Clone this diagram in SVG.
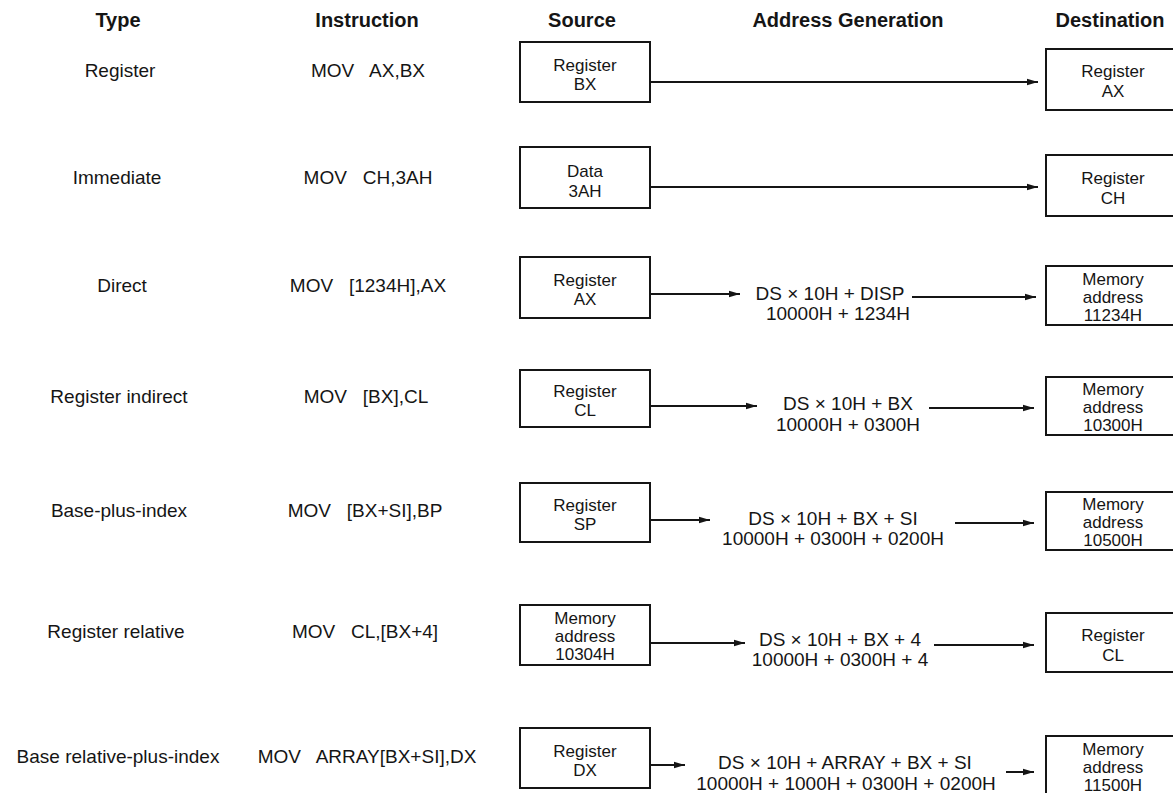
<svg xmlns="http://www.w3.org/2000/svg" width="1173" height="793" viewBox="0 0 1173 793">
<style>
text{font-family:"Liberation Sans",Arial,Helvetica,sans-serif;fill:#151515}
.h{font-size:20px;font-weight:bold;text-anchor:middle}
.t{font-size:19px;text-anchor:middle}
.i{font-size:19px;text-anchor:middle;white-space:pre}
.b{font-size:17px;text-anchor:middle}
.a{font-size:19px;text-anchor:middle}
rect{fill:#fff;stroke:#151515;stroke-width:2}
.c line{stroke:#151515;stroke-width:2}
</style>
<defs>
<marker id="ah" markerUnits="userSpaceOnUse" markerWidth="12" markerHeight="8" refX="11" refY="4" orient="auto">
<path d="M0,0.8 L11,4 L0,7.2 z" fill="#151515"/>
</marker>
</defs>
<rect x="0" y="0" width="1173" height="793" style="stroke:none;fill:#fff"/>
<g id="headers">
<text class="h" x="118" y="27">Type</text>
<text class="h" x="367" y="27">Instruction</text>
<text class="h" x="582" y="27">Source</text>
<text class="h" x="848" y="27">Address Generation</text>
<text class="h" x="1110" y="27">Destination</text>
</g>
<g id="types">
<text class="t" x="120" y="77">Register</text>
<text class="t" x="117" y="184">Immediate</text>
<text class="t" x="122" y="292">Direct</text>
<text class="t" x="119" y="403">Register indirect</text>
<text class="t" x="119" y="517">Base-plus-index</text>
<text class="t" x="116" y="638">Register relative</text>
<text class="t" x="118" y="763">Base relative-plus-index</text>
</g>
<g id="instructions">
<text class="i" x="368" y="77">MOV   AX,BX</text>
<text class="i" x="368" y="184">MOV   CH,3AH</text>
<text class="i" x="368" y="292">MOV   [1234H],AX</text>
<text class="i" x="366" y="403">MOV   [BX],CL</text>
<text class="i" x="365" y="517">MOV   [BX+SI],BP</text>
<text class="i" x="365" y="638">MOV   CL,[BX+4]</text>
<text class="i" x="367" y="763">MOV   ARRAY[BX+SI],DX</text>
</g>
<g id="src1"><rect x="520" y="42" width="130" height="60"/><text class="b" x="585" y="71">Register</text><text class="b" x="585" y="90">BX</text></g>
<g id="src2"><rect x="520" y="147" width="130" height="61"/><text class="b" x="585" y="177">Data</text><text class="b" x="585" y="197">3AH</text></g>
<g id="src3"><rect x="520" y="257" width="130" height="61"/><text class="b" x="585" y="286">Register</text><text class="b" x="585" y="305">AX</text></g>
<g id="src4"><rect x="520" y="370" width="130" height="57"/><text class="b" x="585" y="397">Register</text><text class="b" x="585" y="416">CL</text></g>
<g id="src5"><rect x="520" y="483" width="130" height="59"/><text class="b" x="585" y="511">Register</text><text class="b" x="585" y="530">SP</text></g>
<g id="src6"><rect x="520" y="605" width="130" height="60"/><text class="b" x="585" y="624">Memory</text><text class="b" x="585" y="642">address</text><text class="b" x="585" y="660">10304H</text></g>
<g id="src7"><rect x="520" y="728" width="130" height="60"/><text class="b" x="585" y="757">Register</text><text class="b" x="585" y="776">DX</text></g>
<g id="dst1"><rect x="1046" y="49" width="135" height="61"/><text class="b" x="1113" y="77">Register</text><text class="b" x="1113" y="97">AX</text></g>
<g id="dst2"><rect x="1046" y="155" width="135" height="61"/><text class="b" x="1113" y="184">Register</text><text class="b" x="1113" y="204">CH</text></g>
<g id="dst3"><rect x="1046" y="266" width="135" height="59"/><text class="b" x="1113" y="285">Memory</text><text class="b" x="1113" y="303">address</text><text class="b" x="1113" y="321">11234H</text></g>
<g id="dst4"><rect x="1046" y="377" width="135" height="58"/><text class="b" x="1113" y="395">Memory</text><text class="b" x="1113" y="413">address</text><text class="b" x="1113" y="431">10300H</text></g>
<g id="dst5"><rect x="1046" y="492" width="135" height="58"/><text class="b" x="1113" y="510">Memory</text><text class="b" x="1113" y="528">address</text><text class="b" x="1113" y="546">10500H</text></g>
<g id="dst6"><rect x="1046" y="613" width="135" height="59"/><text class="b" x="1113" y="641">Register</text><text class="b" x="1113" y="661">CL</text></g>
<g id="dst7"><rect x="1046" y="736" width="135" height="62"/><text class="b" x="1113" y="755">Memory</text><text class="b" x="1113" y="773">address</text><text class="b" x="1113" y="791">11500H</text></g>
<g id="addr3"><text class="a" x="830" y="300">DS × 10H + DISP</text><text class="a" x="838" y="320">10000H + 1234H</text></g>
<g id="addr4"><text class="a" x="848" y="410">DS × 10H + BX</text><text class="a" x="848" y="431">10000H + 0300H</text></g>
<g id="addr5"><text class="a" x="833" y="525">DS × 10H + BX + SI</text><text class="a" x="833" y="545">10000H + 0300H + 0200H</text></g>
<g id="addr6"><text class="a" x="840" y="646">DS × 10H + BX + 4</text><text class="a" x="840" y="666">10000H + 0300H + 4</text></g>
<g id="addr7"><text class="a" x="845" y="769">DS × 10H + ARRAY + BX + SI</text><text class="a" x="846" y="790">10000H + 1000H + 0300H + 0200H</text></g>
<g id="connectors" class="c">
<line x1="651" y1="82" x2="1038" y2="82" marker-end="url(#ah)"/>
<line x1="651" y1="187" x2="1038" y2="187" marker-end="url(#ah)"/>
<line x1="651" y1="294" x2="740" y2="294" marker-end="url(#ah)"/>
<line x1="912" y1="297" x2="1036" y2="297" marker-end="url(#ah)"/>
<line x1="651" y1="406" x2="757" y2="406" marker-end="url(#ah)"/>
<line x1="929" y1="408" x2="1034" y2="408" marker-end="url(#ah)"/>
<line x1="651" y1="520" x2="710" y2="520" marker-end="url(#ah)"/>
<line x1="955" y1="523" x2="1034" y2="523" marker-end="url(#ah)"/>
<line x1="651" y1="643" x2="745" y2="643" marker-end="url(#ah)"/>
<line x1="934" y1="645" x2="1034" y2="645" marker-end="url(#ah)"/>
<line x1="651" y1="765" x2="685" y2="765" marker-end="url(#ah)"/>
<line x1="1006" y1="772" x2="1034" y2="772" marker-end="url(#ah)"/>
</g>
</svg>
